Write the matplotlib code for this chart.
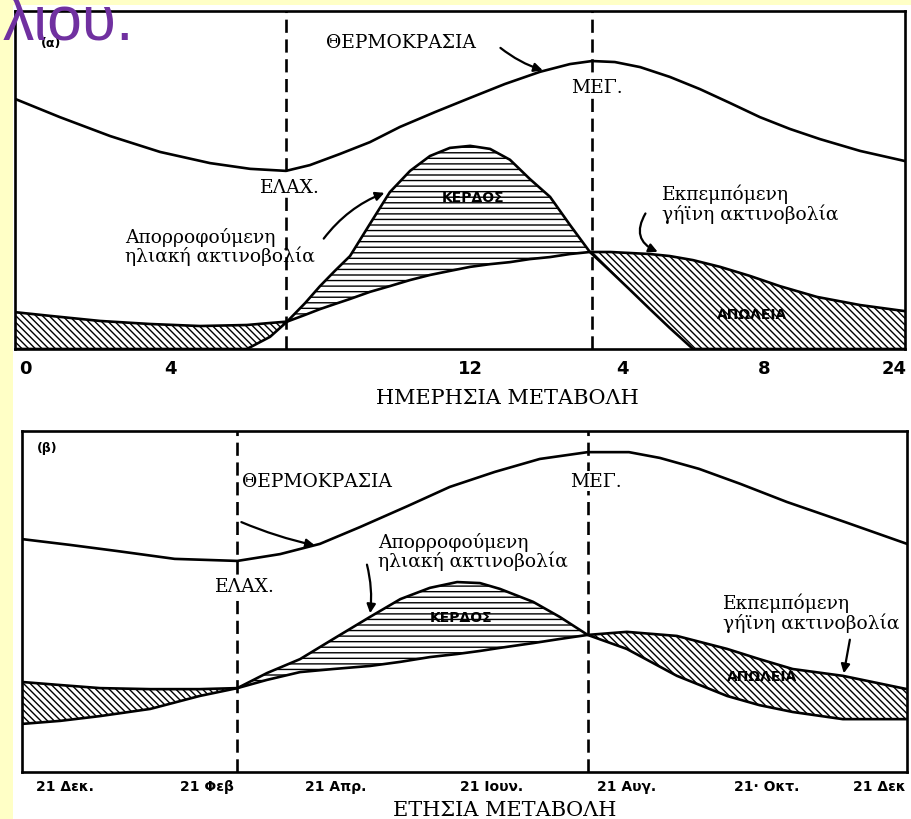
import matplotlib.pyplot as plt
from matplotlib.patches import Rectangle

SERIF = 'DejaVu Serif'
GREEK = 'DejaVu Serif'
SANS = 'DejaVu Sans'

# ---- (α) daily variation: hours, relative units ----
day_hours = [-0.30, 0.67, 2.05, 3.43, 4.81, 6.11, 6.75, 7.22, 7.72, 8.13, 8.54, 8.96,
             9.51, 10.06, 10.62, 11.17, 11.72, 12.28, 12.83, 13.38, 13.93, 14.49,
             15.04, 15.59, 16.15, 16.70, 17.25, 17.80, 18.44, 19.19, 20.02, 20.84,
             21.87, 23.06, 24.30]
day_absorbed = [0, 0, 0, 0, 0, 0, 3.6, 8.1, 13.6, 18.6, 23.1, 27.5,
                37.0, 46.4, 52.7, 57.1, 59.5, 60.1, 59.2, 56.0, 50.3, 45.0,
                36.7, 28.7, 23.1, 17.5, 11.8, 6.2, 0, 0, 0, 0,
                0, 0, 0]
day_emitted = [10.9, 9.8, 8.3, 7.4, 6.8, 7.1, 7.7, 8.1, 10.1, 11.8, 13.3, 14.8,
               16.9, 18.6, 20.4, 21.9, 23.1, 24.3, 25.1, 25.7, 26.6, 27.2,
               28.1, 28.7, 28.7, 28.4, 28.1, 27.5, 26.3, 24.3, 21.6, 18.6,
               15.4, 13.0, 11.2]
day_temp_hours = [-0.30, 0.94, 2.33, 3.71, 5.09, 6.20, 7.19, 7.85, 8.68, 9.51, 10.34,
                  11.31, 12.28, 13.24, 14.21, 15.04, 15.65, 16.28, 16.98, 17.80,
                  18.63, 19.46, 20.29, 21.12, 21.95, 23.06, 24.30]
day_temp = [74.0, 68.6, 63.0, 58.3, 55.0, 53.3, 52.7, 54.4, 57.7, 61.2, 65.7,
            70.1, 74.3, 78.4, 82.0, 84.3, 85.2, 84.9, 83.4, 80.5,
            76.9, 72.8, 68.6, 65.1, 62.1, 58.6, 55.6]
day_min, day_max = 7.2, 15.65
day_ticks = [0, 4, 12.3, 16.5, 20.4, 24]
day_ticklabels = ['0', '4', '12', '4', '8', '24']

# ---- (β) annual variation: months after 21 Dec, relative units ----
year_months = [0, 0.52, 1.06, 1.74, 2.41, 2.92, 3.32, 3.77, 4.22, 4.72, 5.13, 5.53,
               5.90, 6.21, 6.48, 6.93, 7.29, 7.67, 8.20, 8.88, 9.56, 10.0, 10.45,
               11.13, 12.0]
year_absorbed = [14.1, 15.0, 16.4, 18.5, 22.3, 24.6, 29.0, 33.1, 39.0, 45.5, 50.7, 54.0,
                 55.7, 55.4, 53.7, 49.9, 45.5, 40.2, 36.1, 28.2, 22.3, 19.6, 17.6,
                 15.5, 15.5]
year_emitted = [26.4, 25.5, 24.6, 24.3, 24.3, 24.6, 27.0, 29.3, 30.2, 31.1, 32.3, 33.7,
                34.6, 35.5, 36.4, 37.8, 39.0, 40.2, 41.1, 39.9, 36.1, 33.1, 30.2,
                28.2, 24.3]
year_temp_months = [0, 0.65, 1.29, 2.07, 2.92, 3.50, 4.04, 4.58, 5.23, 5.80, 6.41,
                    7.02, 7.67, 8.23, 8.65, 9.18, 9.74, 10.37, 11.16, 12.0]
year_temp = [68.3, 66.6, 64.8, 62.5, 61.9, 63.9, 66.9, 71.8, 78.0, 83.6, 88.0,
             91.8, 93.8, 93.8, 92.1, 88.9, 84.5, 79.2, 73.3, 66.9]
year_min, year_max = 2.92, 7.67
year_ticks = [0.58, 2.51, 4.26, 6.37, 8.2, 10.1, 11.63]
year_ticklabels = ['21 Δεκ.', '21 Φεβ', '21 Απρ.', '21 Ιουν.', '21 Αυγ.', '21· Οκτ.', '21 Δεκ']


def draw_panel(ax, x, absorbed, emitted, tx, temp, xmin, xmax):
    gain = [a >= e for a, e in zip(absorbed, emitted)]
    loss = [a <= e for a, e in zip(absorbed, emitted)]
    ax.fill_between(x, absorbed, emitted, where=loss, interpolate=True,
                    facecolor='none', edgecolor='black', hatch='\\' * 5, linewidth=0)
    ax.fill_between(x, absorbed, emitted, where=gain, interpolate=True,
                    facecolor='none', edgecolor='black', hatch='---', linewidth=0)
    ax.plot(x, absorbed, color='black', lw=1.9)
    ax.plot(x, emitted, color='black', lw=1.9)
    ax.plot(tx, temp, color='black', lw=1.9)
    for v in (xmin, xmax):
        ax.axvline(v, color='black', lw=1.9, linestyle=(0, (5, 2.5)))
    ax.set_ylim(0, 100)
    ax.set_yticks([])
    ax.tick_params(axis='x', length=0)
    for s in ax.spines.values():
        s.set_linewidth(1.9)
    ax.set_facecolor('white')


def label(ax, x, y, s, **kw):
    kw.setdefault('family', SERIF)
    kw.setdefault('fontsize', 13.5)
    ax.text(x, y, s, transform=ax.transAxes, va='center', **kw)


def arrow(ax, start, end, rad):
    ax.annotate('', xy=end, xytext=start, xycoords='axes fraction',
                arrowprops=dict(arrowstyle='-|>', color='black', lw=1.6,
                                mutation_scale=13,
                                connectionstyle=f'arc3,rad={rad}'))


plt.rcParams['hatch.linewidth'] = 1.0
fig = plt.figure(figsize=(9.11, 8.2), dpi=100, facecolor='#FFFFC6')
fig.add_artist(Rectangle((13 / 911, 0), 1, 1 - 6 / 820, transform=fig.transFigure,
                         facecolor='white', edgecolor='none', zorder=0))

white = dict(facecolor='white', edgecolor='none', pad=1)
small_bold = dict(family=SANS, fontsize=10, fontweight='bold', ha='center')

# top panel
ax1 = fig.add_axes([15 / 911, 470 / 820, 890 / 911, 338 / 820])
draw_panel(ax1, day_hours, day_absorbed, day_emitted, day_temp_hours, day_temp,
           day_min, day_max)
ax1.set_xlim(-0.30, 24.30)
ax1.set_xticks(day_ticks)
ax1.set_xticklabels(day_ticklabels, family=SANS, fontweight='bold', fontsize=13)
ax1.tick_params(axis='x', pad=7)
ax1.set_xlabel('ΗΜΕΡΗΣΙΑ ΜΕΤΑΒΟΛΗ', family=SERIF, fontsize=15)
ax1.xaxis.set_label_coords(0.5528, -0.115)

label(ax1, 0.040, 0.908, '(α)', family=SANS, fontsize=9, fontweight='bold', ha='center')
label(ax1, 0.349, 0.908, 'ΘΕΡΜΟΚΡΑΣΙΑ')
arrow(ax1, (0.543, 0.896), (0.596, 0.822), 0.1)
label(ax1, 0.654, 0.775, 'ΜΕΓ.', ha='center', bbox=white)
label(ax1, 0.309, 0.479, 'ΕΛΑΧ.', ha='center', bbox=white)
label(ax1, 0.124, 0.305, 'Απορροφούμενη\nηλιακή ακτινοβολία', family=GREEK,
      fontsize=13.5, linespacing=1.0)
arrow(ax1, (0.345, 0.320), (0.418, 0.465), -0.15)
label(ax1, 0.515, 0.450, 'ΚΕΡΔΟΣ', **small_bold)
label(ax1, 0.727, 0.432, 'Εκπεμπόμενη\nγήϊνη ακτινοβολία', family=GREEK,
      fontsize=13.5, linespacing=1.0)
arrow(ax1, (0.710, 0.408), (0.725, 0.284), 0.6)
label(ax1, 0.828, 0.104, 'ΑΠΩΛΕΙΑ', **small_bold)

# bottom panel
ax2 = fig.add_axes([22 / 911, 47 / 820, 885 / 911, 341 / 820])
draw_panel(ax2, year_months, year_absorbed, year_emitted, year_temp_months, year_temp,
           year_min, year_max)
ax2.set_xlim(0, 12)
ax2.set_xticks(year_ticks)
ax2.set_xticklabels(year_ticklabels, family=SANS, fontweight='bold', fontsize=10)
ax2.tick_params(axis='x', pad=5)
ax2.set_xlabel('ΕΤΗΣΙΑ ΜΕΤΑΒΟΛΗ', family=SERIF, fontsize=15)
ax2.xaxis.set_label_coords(0.5458, -0.082)

label(ax2, 0.028, 0.953, '(β)', family=SANS, fontsize=9, fontweight='bold', ha='center')
label(ax2, 0.249, 0.853, 'ΘΕΡΜΟΚΡΑΣΙΑ')
arrow(ax2, (0.245, 0.736), (0.334, 0.663), 0.05)
label(ax2, 0.649, 0.853, 'ΜΕΓ.', ha='center', bbox=white)
label(ax2, 0.252, 0.5455, 'ΕΛΑΧ.', ha='center', bbox=white)
label(ax2, 0.402, 0.648, 'Απορροφούμενη\nηλιακή ακτινοβολία', family=GREEK,
      fontsize=13.5, linespacing=1.0)
arrow(ax2, (0.389, 0.616), (0.393, 0.4575), -0.1)
label(ax2, 0.496, 0.4545, 'ΚΕΡΔΟΣ', **small_bold)
label(ax2, 0.792, 0.469, 'Εκπεμπόμενη\nγήϊνη ακτινοβολία', family=GREEK,
      fontsize=13.5, linespacing=1.0)
arrow(ax2, (0.936, 0.396), (0.928, 0.2815), 0.0)
label(ax2, 0.836, 0.2815, 'ΑΠΩΛΕΙΑ', **small_bold)

fig.text(3 / 911, 1 - 40 / 820, 'λιου.', family='Liberation Sans', fontsize=45,
         color='#7030A0', va='baseline', zorder=5)

fig.savefig('out.png', dpi=100, facecolor=fig.get_facecolor())
